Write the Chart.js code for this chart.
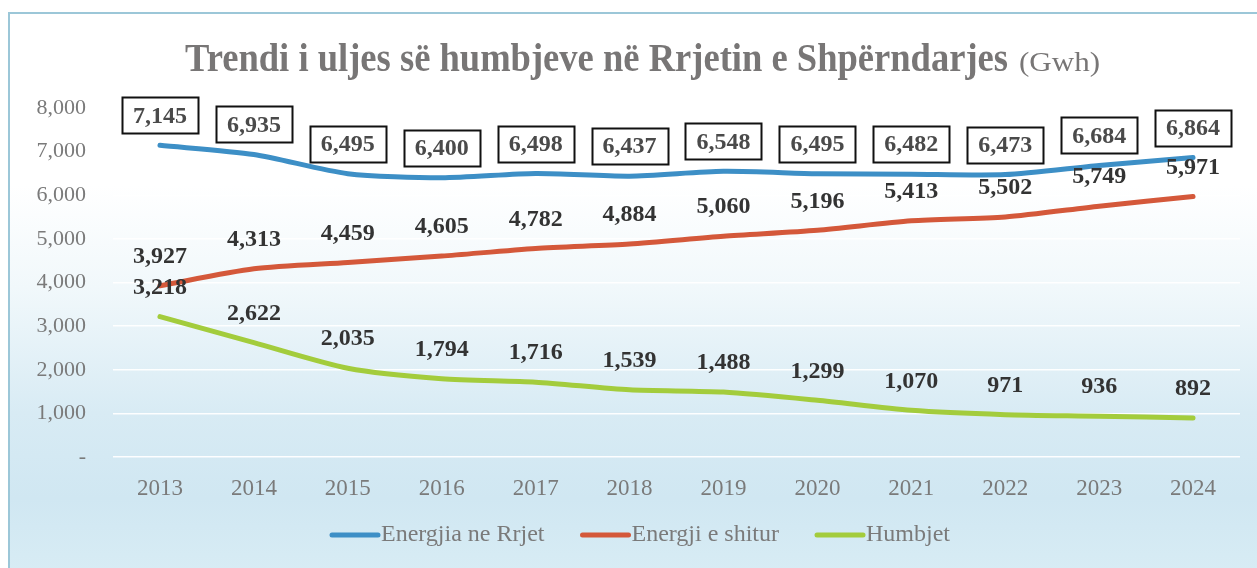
<!DOCTYPE html>
<html>
<head>
<meta charset="utf-8">
<script src="https://cdn.jsdelivr.net/npm/chart.js@4.4.1/dist/chart.umd.min.js"></script>
<style>
  html, body { margin: 0; padding: 0; background: #ffffff; }
  #wrap { position: relative; width: 1257px; height: 568px; overflow: hidden; background: #ffffff; }
  #frame {
    position: absolute; left: 8px; top: 12px; width: 1260px; height: 570px;
    border-left: 2px solid #9cc7d8; border-top: 2px solid #9cc7d8;
    background: linear-gradient(to bottom, #ffffff 0%, #ffffff 30%, #f1f8fb 48%, #d8ebf4 70%, #d0e7f2 85%, #d9edf5 100%);
  }
  #c { position: absolute; left: 0; top: 0; }
</style>
</head>
<body>
<div id="wrap">
  <div id="frame"></div>
  <canvas id="c" width="1257" height="568"></canvas>
</div>
<script>
const categories = ['2013','2014','2015','2016','2017','2018','2019','2020','2021','2022','2023','2024'];
const energjiaNeRrjet = [7145, 6935, 6495, 6400, 6498, 6437, 6548, 6495, 6482, 6473, 6684, 6864];
const energjiShitur = [3927, 4313, 4459, 4605, 4782, 4884, 5060, 5196, 5413, 5502, 5749, 5971];
const humbjet = [3218, 2622, 2035, 1794, 1716, 1539, 1488, 1299, 1070, 971, 936, 892];
const seriesNames = ['Energjia ne Rrjet', 'Energji e shitur', 'Humbjet'];
const yTickValues = [0, 1000, 2000, 3000, 4000, 5000, 6000, 7000, 8000];
const yTickLabels = ['-', '1,000', '2,000', '3,000', '4,000', '5,000', '6,000', '7,000', '8,000'];
const titleMain = 'Trendi i uljes së humbjeve në Rrjetin e Shpërndarjes';
const titleUnit = '(Gwh)';

const SERIF = '"Liberation Serif", "DejaVu Serif", "Times New Roman", serif';
const colors = ['#3d8fc6', '#d4583a', '#a3cc3c'];
const fmt = v => v.toLocaleString('en-US');

const titlePlugin = {
  id: 'titlePlugin',
  afterDraw(chart) {
    const ctx = chart.ctx;
    ctx.save();
    ctx.fillStyle = '#787676';
    ctx.textBaseline = 'alphabetic';
    ctx.textAlign = 'left';
    ctx.font = 'bold 41px ' + SERIF;
    const w = ctx.measureText(titleMain).width;
    ctx.save();
    ctx.translate(185, 71);
    ctx.scale(823 / w, 1);
    ctx.fillText(titleMain, 0, 0);
    ctx.restore();
    ctx.font = '27px ' + SERIF;
    const w2 = ctx.measureText(titleUnit).width;
    ctx.save();
    ctx.translate(1019, 71);
    ctx.scale(81 / w2, 1);
    ctx.fillText(titleUnit, 0, 0);
    ctx.restore();
    ctx.restore();
  }
};

const labelPlugin = {
  id: 'labelPlugin',
  afterDatasetsDraw(chart) {
    const ctx = chart.ctx;
    ctx.save();
    ctx.font = 'bold 24px ' + SERIF;
    ctx.textAlign = 'center';
    ctx.textBaseline = 'middle';
    chart.data.datasets.forEach((ds, di) => {
      const meta = chart.getDatasetMeta(di);
      meta.data.forEach((pt, i) => {
        const txt = fmt(ds.data[i]);
        const x = pt.x, y = pt.y - 30;
        if (di === 0) {
          const tw = ctx.measureText(txt).width;
          const bw = tw + 22, bh = 36;
          ctx.lineWidth = 2;
          ctx.strokeStyle = '#111111';
          ctx.strokeRect(Math.round(x - bw / 2) + 0.5, Math.round(y - bh / 2) + 0.5, Math.round(bw), bh);
          ctx.fillStyle = '#4a4a4a';
        } else {
          ctx.fillStyle = '#333333';
        }
        ctx.fillText(txt, x, y + 1);
      });
    });
    ctx.restore();
  }
};

const legendPlugin = {
  id: 'legendPlugin',
  afterDraw(chart) {
    const ctx = chart.ctx;
    ctx.save();
    ctx.font = '24px ' + SERIF;
    ctx.textBaseline = 'middle';
    ctx.textAlign = 'left';
    const y = 535;
    let x = 330;
    seriesNames.forEach((name, i) => {
      ctx.strokeStyle = colors[i];
      ctx.lineWidth = 5;
      ctx.lineCap = 'round';
      ctx.beginPath();
      ctx.moveTo(x + 2, y);
      ctx.lineTo(x + 48, y);
      ctx.stroke();
      ctx.fillStyle = '#7a7a7a';
      ctx.fillText(name, x + 51, y);
      x += 51 + ctx.measureText(name).width + 36;
    });
    ctx.restore();
  }
};

new Chart(document.getElementById('c'), {
  type: 'line',
  data: {
    labels: categories,
    datasets: [
      { label: seriesNames[0], data: energjiaNeRrjet, borderColor: colors[0], backgroundColor: colors[0] },
      { label: seriesNames[1], data: energjiShitur, borderColor: colors[1], backgroundColor: colors[1] },
      { label: seriesNames[2], data: humbjet, borderColor: colors[2], backgroundColor: colors[2] }
    ]
  },
  options: {
    responsive: false,
    animation: false,
    devicePixelRatio: 1,
    layout: { padding: { top: 108, right: 17, bottom: 61, left: 0 } },
    elements: {
      line: { borderWidth: 5, tension: 0.25, borderCapStyle: 'round' },
      point: { radius: 0, hoverRadius: 0 }
    },
    plugins: {
      legend: { display: false },
      title: { display: false },
      tooltip: { enabled: false }
    },
    scales: {
      x: {
        offset: true,
        grid: { display: false, drawTicks: false },
        border: { display: false },
        ticks: { color: '#7a7a7a', font: { family: SERIF, size: 23 }, padding: 18, maxRotation: 0 },
        afterFit(scale) { scale.height = 50; }
      },
      y: {
        min: 0, max: 8000,
        afterBuildTicks(scale) { scale.ticks = yTickValues.map(v => ({ value: v })); },
        grid: { color: 'rgba(255,255,255,0.95)', lineWidth: 1.5, drawTicks: false },
        border: { display: false },
        ticks: {
          color: '#7a7a7a', font: { family: SERIF, size: 22 }, padding: 27,
          callback: (v) => { const i = yTickValues.indexOf(v); return i >= 0 ? yTickLabels[i] : ''; }
        },
        afterFit(scale) { scale.width = 113; }
      }
    }
  },
  plugins: [titlePlugin, labelPlugin, legendPlugin]
});
</script>
</body>
</html>
